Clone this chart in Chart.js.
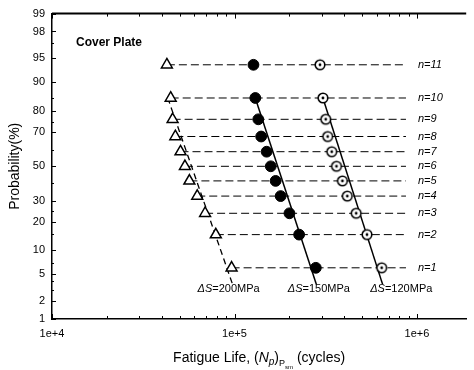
<!DOCTYPE html>
<html>
<head>
<meta charset="utf-8">
<script src="https://cdn.jsdelivr.net/npm/chart.js@4.4.0/dist/chart.umd.min.js"></script>
<style>
  html, body { margin: 0; padding: 0; background: #fff; }
  #wrap { width: 474px; height: 370px; position: relative; }
</style>
</head>
<body>
<div id="wrap"><canvas id="chart"></canvas></div>
<script>
// ===== Data =====
const rowLabels = ['n=1', 'n=2', 'n=3', 'n=4', 'n=5', 'n=6', 'n=7', 'n=8', 'n=9', 'n=10', 'n=11'];
const rowProbability = [6.1, 14.9, 23.7, 32.5, 41.2, 50.0, 58.8, 67.5, 76.3, 85.1, 93.9];

// fatigue life (cycles) per row, one list per stress range
const life200 = [96.4e3, 79.0e3, 69.0e3, 62.5e3, 56.6e3, 53.5e3, 50.6e3, 47.4e3, 45.8e3, 44.7e3, 42.6e3];
const life150 = [279e3, 226e3, 200e3, 179e3, 168e3, 158e3, 150e3, 140e3, 135e3, 130e3, 127e3];
const life120 = [640e3, 532e3, 464e3, 415e3, 390e3, 362e3, 341e3, 324e3, 316e3, 305e3, 294e3];
const rowLineEnd = 8.7e5;

// fitted distribution lines (two end points each)
const fitProbability = [85.1, 3.6];
const fit200 = [43.1e3, 97.6e3];
const fit150 = [130e3, 281e3];
const fit120 = [305e3, 648e3];

const probTicks = [1, 2, 5, 10, 20, 30, 50, 70, 80, 90, 95, 98, 99];
const probMinorTicks = [3, 4, 7, 15, 25, 40, 60, 75, 85, 97];
const lifeMin = 1e4;
const lifeMax = 1.86e6;

// ===== Normal probability scale =====
// inverse standard normal CDF (Acklam), input in percent
function probit(pct) {
    const p = pct / 100;
    const a = [-3.969683028665376e+01, 2.209460984245205e+02, -2.759285104469687e+02, 1.383577518672690e+02, -3.066479806614716e+01, 2.506628277459239e+00];
    const b = [-5.447609879822406e+01, 1.615858368580409e+02, -1.556989798598866e+02, 6.680131188771972e+01, -1.328068155288572e+01];
    const c = [-7.784894002430293e-03, -3.223964580411365e-01, -2.400758277161838e+00, -2.549732539343734e+00, 4.374664141464968e+00, 2.938163982698783e+00];
    const d = [7.784695709041462e-03, 3.224671290700398e-01, 2.445134137142996e+00, 3.754408661907416e+00];
    const pl = 0.02425;
    let q, r;
    if (p < pl) {
        q = Math.sqrt(-2 * Math.log(p));
        return (((((c[0]*q+c[1])*q+c[2])*q+c[3])*q+c[4])*q+c[5]) / ((((d[0]*q+d[1])*q+d[2])*q+d[3])*q+1);
    }
    if (p > 1 - pl) {
        q = Math.sqrt(-2 * Math.log(1 - p));
        return -(((((c[0]*q+c[1])*q+c[2])*q+c[3])*q+c[4])*q+c[5]) / ((((d[0]*q+d[1])*q+d[2])*q+d[3])*q+1);
    }
    q = p - 0.5;
    r = q * q;
    return (((((a[0]*r+a[1])*r+a[2])*r+a[3])*r+a[4])*r+a[5])*q / (((((b[0]*r+b[1])*r+b[2])*r+b[3])*r+b[4])*r+1);
}

const FONT = "'Liberation Sans', Arial, sans-serif";

// open circle with a centre dot
function makeDottedCircle() {
    const c = document.createElement('canvas');
    c.width = 14;
    c.height = 14;
    const g = c.getContext('2d');
    g.beginPath();
    g.arc(7, 7, 4.8, 0, Math.PI * 2);
    g.fillStyle = '#fff';
    g.fill();
    g.lineWidth = 1.6;
    g.strokeStyle = '#000';
    g.stroke();
    g.beginPath();
    g.arc(7, 7, 1.4, 0, Math.PI * 2);
    g.fillStyle = '#000';
    g.fill();
    return c;
}

function toPoints(lives, probs) {
    return lives.map((x, i) => ({ x: x, y: probit(probs[i]) }));
}

// ===== Datasets =====
const datasets = [];

datasets.push({
    label: 'ΔS=200MPa',
    data: toPoints(life200, rowProbability),
    pointStyle: 'triangle',
    pointRadius: 6.3,
    borderWidth: 1.5,
    borderColor: '#000',
    backgroundColor: '#fff',
    order: 0
});
datasets.push({
    label: 'ΔS=150MPa',
    data: toPoints(life150, rowProbability),
    pointStyle: 'circle',
    pointRadius: 5.4,
    borderWidth: 1,
    borderColor: '#000',
    backgroundColor: '#000',
    order: 0
});
datasets.push({
    label: 'ΔS=120MPa',
    data: toPoints(life120, rowProbability),
    pointStyle: makeDottedCircle(),
    order: 0
});

// fitted lines
[[fit200, [6, 4], 1.3], [fit150, [], 1.5], [fit120, [], 1.5]].forEach(([fit, dash, w]) => {
    datasets.push({
        data: toPoints(fit, fitProbability),
        showLine: true,
        borderColor: '#000',
        borderWidth: w,
        borderDash: dash,
        pointRadius: 0,
        order: 1
    });
});

// dashed row guides
rowProbability.forEach((p, i) => {
    datasets.push({
        data: [{ x: life200[i], y: probit(p) }, { x: rowLineEnd, y: probit(p) }],
        showLine: true,
        borderColor: '#000',
        borderWidth: 1,
        borderDash: [8, 4],
        pointRadius: 0,
        order: 2
    });
});

// ===== Plugins =====
const axisMarks = {
    id: 'axisMarks',
    afterDraw(chart) {
        const { ctx, chartArea: area, scales: { x, y } } = chart;
        ctx.save();
        ctx.strokeStyle = '#000';

        // top frame line
        ctx.lineWidth = 2;
        ctx.beginPath();
        ctx.moveTo(area.left, area.top);
        ctx.lineTo(area.right, area.top);
        ctx.stroke();

        // inward ticks on the probability axis
        ctx.lineWidth = 1;
        probTicks.forEach(p => {
            const py = Math.round(y.getPixelForValue(probit(p))) + 0.5;
            ctx.beginPath();
            ctx.moveTo(area.left, py);
            ctx.lineTo(area.left + 4, py);
            ctx.stroke();
        });
        probMinorTicks.forEach(p => {
            const py = Math.round(y.getPixelForValue(probit(p))) + 0.5;
            ctx.beginPath();
            ctx.moveTo(area.left, py);
            ctx.lineTo(area.left + 2, py);
            ctx.stroke();
        });

        // log ticks, bottom and top
        x.ticks.forEach(t => {
            const px = Math.round(x.getPixelForValue(t.value)) + 0.5;
            const len = t.major ? 5 : 3;
            ctx.beginPath();
            ctx.moveTo(px, area.bottom);
            ctx.lineTo(px, area.bottom - len);
            ctx.moveTo(px, area.top);
            ctx.lineTo(px, area.top + len);
            ctx.stroke();
        });

        ctx.fillStyle = '#000';

        // row labels
        ctx.font = 'italic 11px ' + FONT;
        ctx.textAlign = 'left';
        ctx.textBaseline = 'middle';
        const labelX = x.getPixelForValue(rowLineEnd) + 12;
        rowLabels.forEach((lab, i) => {
            ctx.fillText(lab, labelX, y.getPixelForValue(probit(rowProbability[i])));
        });

        // stress range labels
        const stressLabels = [
            { stress: '=200MPa', life: 92.8e3 },
            { stress: '=150MPa', life: 290e3 },
            { stress: '=120MPa', life: 820e3 }
        ];
        const ly = y.getPixelForValue(probit(3.05));
        stressLabels.forEach(s => {
            ctx.font = 'italic 11px ' + FONT;
            const w1 = ctx.measureText('ΔS').width;
            ctx.font = '11px ' + FONT;
            const w2 = ctx.measureText(s.stress).width;
            let cx = x.getPixelForValue(s.life) - (w1 + w2) / 2;
            ctx.font = 'italic 11px ' + FONT;
            ctx.fillText('ΔS', cx, ly);
            ctx.font = '11px ' + FONT;
            ctx.fillText(s.stress, cx + w1, ly);
        });

        // panel caption
        ctx.font = 'bold 12px ' + FONT;
        ctx.textBaseline = 'alphabetic';
        ctx.fillText('Cover Plate', area.left + 24, area.top + 32);

        // y title
        ctx.save();
        ctx.font = '14px ' + FONT;
        ctx.textAlign = 'center';
        ctx.textBaseline = 'middle';
        ctx.translate(15, (area.top + area.bottom) / 2);
        ctx.rotate(-Math.PI / 2);
        ctx.fillText('Probability(%)', 0, 0);
        ctx.restore();

        // x title with subscripts
        const parts = [
            { t: 'Fatigue Life, (', f: '14px ', dy: 0 },
            { t: 'N', f: 'italic 14px ', dy: 0 },
            { t: 'p', f: 'italic 10px ', dy: 3 },
            { t: ')', f: '14px ', dy: 0 },
            { t: 'P', f: '9px ', dy: 4 },
            { t: 'sm', f: '6px ', dy: 7 },
            { t: ' (cycles)', f: '14px ', dy: 0 }
        ];
        let total = 0;
        parts.forEach(p => {
            ctx.font = p.f + FONT;
            p.w = ctx.measureText(p.t).width;
            total += p.w;
        });
        let tx = (area.left + area.right) / 2 - total / 2;
        const baseY = 362;
        ctx.textAlign = 'left';
        parts.forEach(p => {
            ctx.font = p.f + FONT;
            ctx.fillText(p.t, tx, baseY + p.dy);
            tx += p.w;
        });

        ctx.restore();
    }
};

// ===== Chart =====
const ctx = document.getElementById('chart').getContext('2d');

new Chart(ctx, {
    type: 'scatter',
    data: { datasets: datasets },
    options: {
        responsive: true,
        maintainAspectRatio: false,
        animation: false,
        events: [],
        layout: {
            padding: { top: 12, left: 0, right: 0, bottom: 0 }
        },
        plugins: {
            legend: { display: false },
            tooltip: { enabled: false }
        },
        scales: {
            x: {
                type: 'logarithmic',
                min: lifeMin,
                max: lifeMax,
                afterFit(scale) {
                    scale.height = 51;
                },
                afterBuildTicks(scale) {
                    const ticks = [];
                    for (let e = 4; e <= 6; e++) {
                        for (let m = 1; m <= 9; m++) {
                            const v = m * Math.pow(10, e);
                            if (v <= lifeMax) ticks.push({ value: v, major: m === 1 });
                        }
                    }
                    scale.ticks = ticks;
                },
                grid: { display: false, drawTicks: false },
                border: { display: true, color: '#000', width: 1.5 },
                ticks: {
                    autoSkip: false,
                    maxRotation: 0,
                    padding: 8,
                    color: '#000',
                    font: { family: FONT, size: 11 },
                    callback: function(value) {
                        const e = Math.log10(value);
                        return Math.abs(e - Math.round(e)) < 1e-9 ? '1e+' + Math.round(e) : '';
                    }
                }
            },
            y: {
                type: 'linear',
                min: probit(1),
                max: probit(99),
                afterFit(scale) {
                    scale.width = 52;
                },
                afterBuildTicks(scale) {
                    scale.ticks = probTicks.map(p => ({ value: probit(p) }));
                },
                grid: { display: false, drawTicks: false },
                border: { display: true, color: '#000', width: 1.5 },
                ticks: {
                    autoSkip: false,
                    padding: 7,
                    color: '#000',
                    font: { family: FONT, size: 11 },
                    callback: function(value, index) {
                        return String(probTicks[index]);
                    }
                }
            }
        }
    },
    plugins: [axisMarks]
});
</script>
</body>
</html>
